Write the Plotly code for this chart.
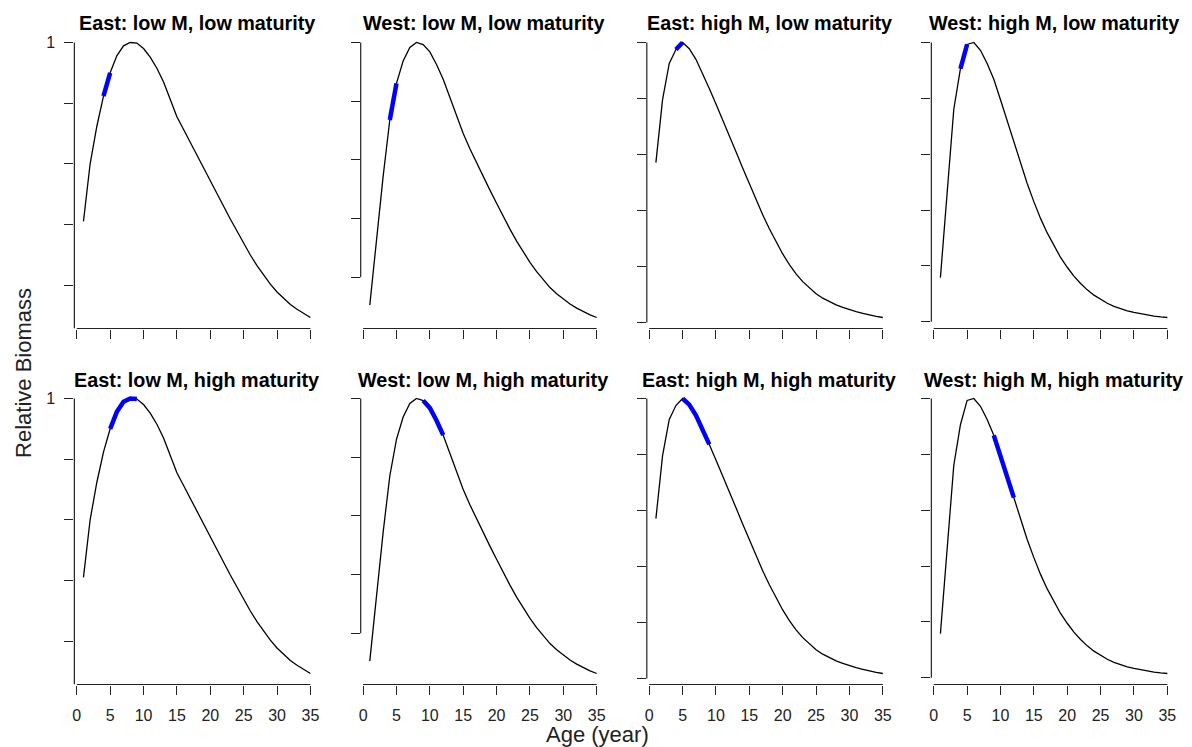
import plotly.graph_objects as go

# ---------------- data ----------------
ages = list(range(1, 36))

east_lowM = [0.41, 0.60, 0.723, 0.823, 0.90, 0.956, 0.989, 1.0, 0.998, 0.98,
             0.952, 0.915, 0.87, 0.815, 0.755, 0.713, 0.67, 0.628, 0.586, 0.544,
             0.502, 0.46, 0.418, 0.377, 0.337, 0.299, 0.264, 0.232, 0.203, 0.177,
             0.155, 0.136, 0.12, 0.105, 0.093]

west_lowM = [0.105, 0.333, 0.544, 0.736, 0.861, 0.937, 0.983, 1.0, 0.993, 0.968,
             0.925, 0.875, 0.815, 0.752, 0.69, 0.638, 0.59, 0.543, 0.497, 0.452,
             0.407, 0.364, 0.323, 0.286, 0.251, 0.219, 0.19, 0.165, 0.144, 0.125,
             0.109, 0.095, 0.083, 0.072, 0.063]

east_highM = [0.571, 0.796, 0.925, 0.975, 1.0, 0.978, 0.94, 0.89, 0.836, 0.78,
              0.725, 0.668, 0.61, 0.552, 0.495, 0.44, 0.385, 0.335, 0.288, 0.245,
              0.207, 0.174, 0.146, 0.123, 0.103, 0.087, 0.074, 0.063, 0.054, 0.046,
              0.039, 0.033, 0.027, 0.022, 0.018]

west_highM = [0.158, 0.47, 0.76, 0.906, 0.993, 1.0, 0.972, 0.925, 0.868, 0.795,
              0.72, 0.645, 0.568, 0.495, 0.43, 0.37, 0.318, 0.272, 0.23, 0.195,
              0.163, 0.137, 0.114, 0.095, 0.079, 0.066, 0.055, 0.046, 0.039, 0.033,
              0.028, 0.024, 0.02, 0.017, 0.015]

panel_titles = ["East: low M, low maturity", "West: low M, low maturity",
                "East: high M, low maturity", "West: high M, low maturity",
                "East: low M, high maturity", "West: low M, high maturity",
                "East: high M, high maturity", "West: high M, high maturity"]
panel_series = [east_lowM, west_lowM, east_highM, west_highM,
                east_lowM, west_lowM, east_highM, west_highM]
mat_start = [4, 4, 4, 4, 5, 9, 5, 9]
mat_end = [5, 5, 5, 5, 9, 12, 9, 12]

x_ticks = [0, 5, 10, 15, 20, 25, 30, 35]
y_ticks = [0.0, 0.2, 0.4, 0.6, 0.8, 1.0]

x_title = "Age (year)"
y_title = "Relative Biomass"

# ---------------- layout geometry (pixels) ----------------
W, H = 1192, 747
col_left = [72.5, 359.3, 645.9, 930.9]
col_width = 245.5
row_top = [31.5, 387.5]
row_height = 297.0
AX = "#222222"
FONT = "Liberation Sans, Arial, sans-serif"

fig = go.Figure()
layout = dict(width=W, height=H, margin=dict(l=0, r=0, t=0, b=0),
              paper_bgcolor="white", plot_bgcolor="white", showlegend=False)
shapes = []
annotations = []

xmin, xmax = min(ages), max(ages)
xpad = (xmax - xmin) * 0.04

for i in range(8):
    r, c = divmod(i, 4)
    n = i + 1
    xa = "x" if n == 1 else f"x{n}"
    ya = "y" if n == 1 else f"y{n}"
    vals = panel_series[i]
    lo, hi = min(vals), max(vals)
    ypad = (hi - lo) * 0.04
    yr = [lo - ypad, hi + ypad]

    fig.add_trace(go.Scatter(x=ages, y=vals, mode="lines",
                             line=dict(color="black", width=1.3),
                             xaxis=xa, yaxis=ya, hoverinfo="skip"))
    seg_x = [a for a in ages if mat_start[i] <= a <= mat_end[i]]
    seg_y = [vals[ages.index(a)] for a in seg_x]
    fig.add_trace(go.Scatter(x=seg_x, y=seg_y, mode="lines",
                             line=dict(color="#0000FF", width=4.5),
                             xaxis=xa, yaxis=ya, hoverinfo="skip"))

    x0 = col_left[c] / W
    x1 = (col_left[c] + col_width) / W
    y1 = 1 - row_top[r] / H
    y0 = 1 - (row_top[r] + row_height) / H

    yt = [t for t in y_ticks if yr[0] <= t <= yr[1] + 1e-9]
    ytext = [("1" if (t == 1.0 and c == 0) else "") for t in yt]

    layout["xaxis" if n == 1 else f"xaxis{n}"] = dict(
        domain=[x0, x1], anchor=ya, range=[xmin - xpad, xmax + xpad],
        showgrid=False, zeroline=False, showline=False,
        ticks="outside", ticklen=9, tickwidth=1.2, tickcolor=AX,
        tickvals=x_ticks, ticktext=[str(t) for t in x_ticks],
        showticklabels=(r == 1), ticklabelstandoff=7,
        tickfont=dict(family=FONT, size=16, color=AX))
    layout["yaxis" if n == 1 else f"yaxis{n}"] = dict(
        domain=[y0, y1], anchor=xa, range=yr,
        showgrid=False, zeroline=False, showline=False,
        ticks="outside", ticklen=9, tickwidth=1.2, tickcolor=AX,
        tickvals=yt, ticktext=ytext, ticklabelstandoff=6,
        tickfont=dict(family=FONT, size=16, color=AX))

    # axis lines (R style: spanning the ticks)
    shapes.append(dict(type="line", xref=xa, yref=f"{ya} domain",
                       x0=x_ticks[0], x1=x_ticks[-1], y0=0, y1=0,
                       line=dict(color=AX, width=1.2)))
    ybot = yr[0] if c == 0 else yt[0]
    shapes.append(dict(type="line", xref=f"{xa} domain", yref=ya,
                       x0=0, x1=0, y0=ybot, y1=yt[-1],
                       line=dict(color=AX, width=1.2)))

    title_y = 23 if r == 0 else 380
    annotations.append(dict(text=f"<b>{panel_titles[i]}</b>", xref="paper", yref="paper",
                            x=(x0 + x1) / 2, y=1 - title_y / H, xanchor="center",
                            yanchor="middle", showarrow=False,
                            font=dict(family=FONT, size=19.8, color="black")))

annotations.append(dict(text=y_title, xref="paper", yref="paper", x=21 / W, y=1 - 373 / H,
                        textangle=-90, xanchor="center", yanchor="middle", showarrow=False,
                        font=dict(family=FONT, size=22, color=AX)))
annotations.append(dict(text=x_title, xref="paper", yref="paper", x=597 / W, y=1 - 734 / H,
                        xanchor="center", yanchor="middle", showarrow=False,
                        font=dict(family=FONT, size=22, color=AX)))

layout["shapes"] = shapes
layout["annotations"] = annotations
fig.update_layout(**layout)
fig.write_html("out.html", config={"displayModeBar": False},
               post_script="document.body.style.margin='0px';document.body.style.overflow='hidden';")
